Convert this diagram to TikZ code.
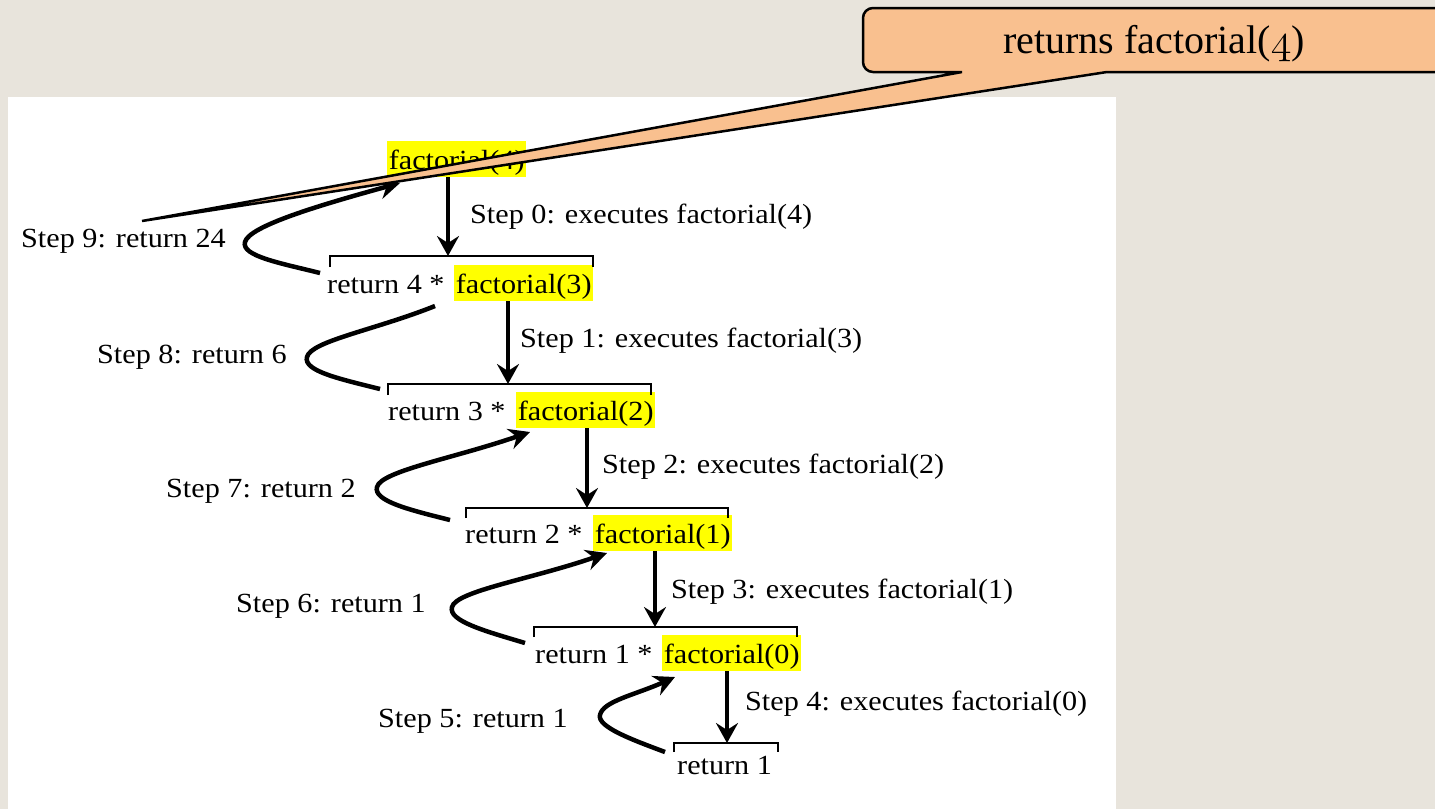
\documentclass[tikz,border=0pt]{standalone}
\usepackage{fontspec}
\usepackage{graphicx}
\usetikzlibrary{arrows.meta}

% Fonts: the trace in Times-width serif, the balloon in a larger serif
\newfontfamily\tnr[FakeStretch=1.09]{Liberation Serif}
\newfontfamily\calfont{Liberation Serif}
% old-style figure four taken from the math italic font
\newcommand\oldfour{\scalebox{1.7}{\fontencoding{OML}\fontfamily{cmm}\fontseries{m}\fontshape{it}\fontsize{24.88}{25}\selectfont 4}}

\definecolor{pagebg}{RGB}{232,228,220}
\definecolor{hlyellow}{RGB}{255,255,0}
\definecolor{calloutfill}{RGB}{249,192,143}

\tikzset{
  txt/.style={font={\tnr\fontsize{27.7pt}{30pt}\selectfont}, inner sep=0pt, anchor=base west},
  hl/.style={txt, fill=hlyellow, inner xsep=1.6pt, inner ysep=0.8pt, text height=27pt, text depth=7pt},
  callarrow/.style={line width=3.8pt, -{Stealth[length=20pt,width=22pt,inset=7pt]}},
  retarc/.style={line width=4.5pt, -{Stealth[length=21pt,width=21pt,inset=7pt]}},
  retline/.style={line width=4.5pt},
  bracket/.style={line width=2.4pt},
  callout/.style={draw=black, line width=2.5pt, fill=calloutfill, line join=miter},
  calltext/.style={font={\calfont\fontsize{40pt}{44pt}\selectfont}, inner sep=0pt, anchor=base west},
}

\begin{document}
\begin{tikzpicture}[x=1pt,y=-1pt]
\useasboundingbox (0,0) rectangle (1435,809);
\begin{scope}
\clip (0,0) rectangle (1435,809);
\fill[pagebg] (0,0) rectangle (1435,809);
\fill[white] (8,97) rectangle (1116,812);

% ---- the chain of calls ----
\node[hl]  (f4) at (387,169) {factorial(4)};

\node[txt] (r4) at (327,293) {return 4 *};
\node[hl]  (f3) at (454,293) {factorial(3)};

\node[txt] (r3) at (388,420) {return 3 *};
\node[hl]  (f2) at (516,420) {factorial(2)};

\node[txt] (r2) at (465,543) {return 2 *};
\node[hl]  (f1) at (593,543) {factorial(1)};

\node[txt] (r1) at (535,663) {return 1 *};
\node[hl]  (f0) at (662,663) {factorial(0)};

\node[txt] (r0) at (677,774) {return 1};

% ---- brackets over each activation ----
\draw[bracket] (330,267) -- (330,256) -- (593,256) -- (593,267);
\draw[bracket] (388,395) -- (388,384) -- (651,384) -- (651,395);
\draw[bracket] (466,518) -- (466,508) -- (728,508) -- (728,518);
\draw[bracket] (534,637) -- (534,627) -- (797,627) -- (797,637);
\draw[bracket] (674,752) -- (674,743) -- (778,743) -- (778,752);

\coordinate (t1) at (448,256);
\coordinate (t2) at (508,384);
\coordinate (t3) at (587,508);
\coordinate (t4) at (655,627);
\coordinate (t5) at (727,743);

% ---- downward calls ----
\draw[callarrow] (f4.south -| t1) -- (t1);
\draw[callarrow] (f3.south -| t2) -- (t2);
\draw[callarrow] (f2.south -| t3) -- (t3);
\draw[callarrow] (f1.south -| t4) -- (t4);
\draw[callarrow] (f0.south -| t5) -- (t5);

\node[txt] (c0) at (470,223) {Step 0: executes factorial(4)};
\node[txt] (c1) at (520,347) {Step 1: executes factorial(3)};
\node[txt] (c2) at (602,473) {Step 2: executes factorial(2)};
\node[txt] (c3) at (671,598) {Step 3: executes factorial(1)};
\node[txt] (c4) at (745,710) {Step 4: executes factorial(0)};

% ---- returns, looping back up ----
\coordinate (s9) at (320,273); \coordinate (n9) at (245,242); \coordinate (e9) at (400,183);
\coordinate (s8) at (380,389); \coordinate (n8) at (307,357); \coordinate (e8) at (435,306);
\coordinate (s7) at (450,520); \coordinate (n7) at (377,487); \coordinate (e7) at (530,432);
\coordinate (s6) at (525,643); \coordinate (n6) at (452,607); \coordinate (e6) at (607,553);
\coordinate (s5) at (665,752); \coordinate (n5) at (600,715); \coordinate (e5) at (675,677);

\draw[retarc] (s9) .. controls +(-40,-10) and +(-4,14) .. (n9) .. controls +(4,-16) and +(-80,22) .. (e9);
\draw[retline] (s8) .. controls +(-40,-10) and +(-4,14) .. (n8) .. controls +(4,-16) and +(-60,24) .. (e8);
\draw[retarc] (s7) .. controls +(-40,-10) and +(-4,14) .. (n7) .. controls +(4,-16) and +(-75,26) .. (e7);
\draw[retarc] (s6) .. controls +(-40,-12) and +(-4,14) .. (n6) .. controls +(4,-16) and +(-75,26) .. (e6);
\draw[retarc] (s5) .. controls +(-32,-12) and +(-3,12) .. (n5) .. controls +(3,-14) and +(-40,18) .. (e5);

\node[txt] (b9) at (21,247)  {Step 9: return 24};
\node[txt] (b8) at (97,363)  {Step 8: return 6};
\node[txt] (b7) at (166,497) {Step 7: return 2};
\node[txt] (b6) at (236,612) {Step 6: return 1};
\node[txt] (b5) at (378,727) {Step 5: return 1};

% ---- balloon pointing at the final return ----
\draw[callout] (962,72) -- (142,221) -- (1107,72) -- (1450,72) -- (1450,8) -- (873,8)
  arc[start angle=270, end angle=180, radius=10] -- (863,62)
  arc[start angle=180, end angle=90, radius=10] -- cycle;
\node[calltext] (ct) at (1003,53) {returns factorial(\oldfour)};
\end{scope}
\end{tikzpicture}
\end{document}
